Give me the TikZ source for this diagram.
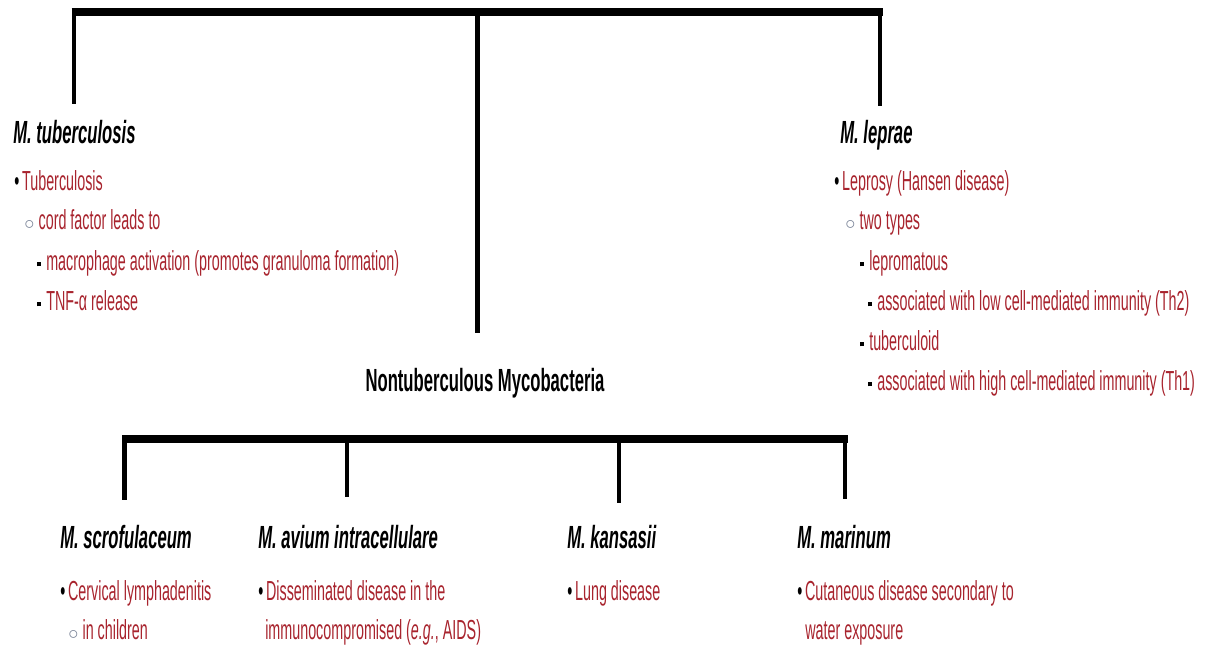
\documentclass[tikz,border=0pt]{standalone}
\usepackage{fontspec}
\setmainfont[FakeStretch=0.52]{Liberation Sans}
\definecolor{rouge}{RGB}{168,36,46}
\definecolor{gris}{RGB}{120,130,150}
\newcommand{\grand}{\fontsize{22.8}{26}\selectfont}
\newcommand{\moyen}{\fontsize{19.6}{23}\selectfont}
\newcommand{\puce}{{\color{black}\textbullet}\hspace{2pt}}
\newcommand{\rond}{{\color{gris}$\scriptstyle\circ$}\hspace{3pt}}
\newcommand{\carre}{{\color{black}\rule[2.6pt]{2.4pt}{2.8pt}}\hspace{4pt}}

\begin{document}
\begin{tikzpicture}
\tikzset{espece/.style={anchor=base west, inner sep=0pt, font=\grand\bfseries\itshape},
ligne/.style={anchor=base west, inner sep=0pt, font=\moyen, text=rouge},
barre/.style={line width=6.2pt},
tige/.style={line width=3.4pt}}
\useasboundingbox (0, 0) rectangle (30.175, 16.3);
% arbre du haut
\coordinate (H1) at (1.7875, 16.0);
\coordinate (H2) at (22.0625, 16.0);
\coordinate (T1) at (1.85, 16.0);
\coordinate (T2) at (11.9375, 16.0);
\coordinate (T3) at (22.0, 16.0);
\coordinate (F1) at (1.85, 13.7);
\coordinate (F2) at (11.9375, 7.975);
\coordinate (F3) at (22.0, 13.65);
\draw[barre] (H1) -- (H2);
\draw[tige] (T1) -- (F1);
\draw[tige] (T2) -- (F2);
\draw[tige] (T3) -- (F3);
% M. tuberculosis
\node[espece] (TB) at (0.325, 12.7) {M. tuberculosis};
\node[ligne] (TB1) at (0.35, 11.525) {\puce Tuberculosis};
\node[ligne] (TB2) at (0.6, 10.55) {\rond cord factor leads to};
\node[ligne] (TB3) at (0.925, 9.55) {\carre macrophage activation (promotes granuloma formation)};
\node[ligne] (TB4) at (0.925, 8.55) {\carre TNF-α release};
% M. leprae
\node[espece] (LP) at (21.0, 12.7) {M. leprae};
\node[ligne] (LP1) at (20.85, 11.525) {\puce Leprosy (Hansen disease)};
\node[ligne] (LP2) at (21.125, 10.55) {\rond two types};
\node[ligne] (LP3) at (21.5, 9.55) {\carre lepromatous};
\node[ligne] (LP4) at (21.7, 8.55) {\carre associated with low cell-mediated immunity (Th2)};
\node[ligne] (LP5) at (21.5, 7.55) {\carre tuberculoid};
\node[ligne] (LP6) at (21.7, 6.55) {\carre associated with high cell-mediated immunity (Th1)};
% mycobacteries non tuberculeuses
\node[anchor=base, inner sep=0pt, font=\grand\bfseries] (NTM) at (12.125, 6.525) {Nontuberculous Mycobacteria};
\coordinate (B1) at (3.05, 5.325);
\coordinate (B2) at (21.1875, 5.325);
\coordinate (S1) at (3.1125, 5.325);
\coordinate (S2) at (8.675, 5.325);
\coordinate (S3) at (15.475, 5.325);
\coordinate (S4) at (21.125, 5.325);
\coordinate (E1) at (3.1125, 3.8);
\coordinate (E2) at (8.675, 3.875);
\coordinate (E3) at (15.475, 3.725);
\coordinate (E4) at (21.125, 3.825);
\draw[barre] (B1) -- (B2);
\draw[tige] (S1) -- (E1);
\draw[tige] (S2) -- (E2);
\draw[tige] (S3) -- (E3);
\draw[tige] (S4) -- (E4);
% especes du bas
\node[espece] (SC) at (1.5, 2.6) {M. scrofulaceum};
\node[ligne] (SC1) at (1.5, 1.3) {\puce Cervical lymphadenitis};
\node[ligne] (SC2) at (1.7, 0.325) {\rond in children};
\node[espece] (AV) at (6.45, 2.6) {M. avium intracellulare};
\node[ligne] (AV1) at (6.45, 1.3) {\puce Disseminated disease in the};
\node[ligne] (AV2) at (6.625, 0.325) {immunocompromised (\textit{e.g.}, AIDS)};
\node[espece] (KA) at (14.175, 2.6) {M. kansasii};
\node[ligne] (KA1) at (14.175, 1.3) {\puce Lung disease};
\node[espece] (MA) at (19.925, 2.6) {M. marinum};
\node[ligne] (MA1) at (19.925, 1.3) {\puce Cutaneous disease secondary to};
\node[ligne] (MA2) at (20.125, 0.325) {water exposure};
\end{tikzpicture}
\end{document}
